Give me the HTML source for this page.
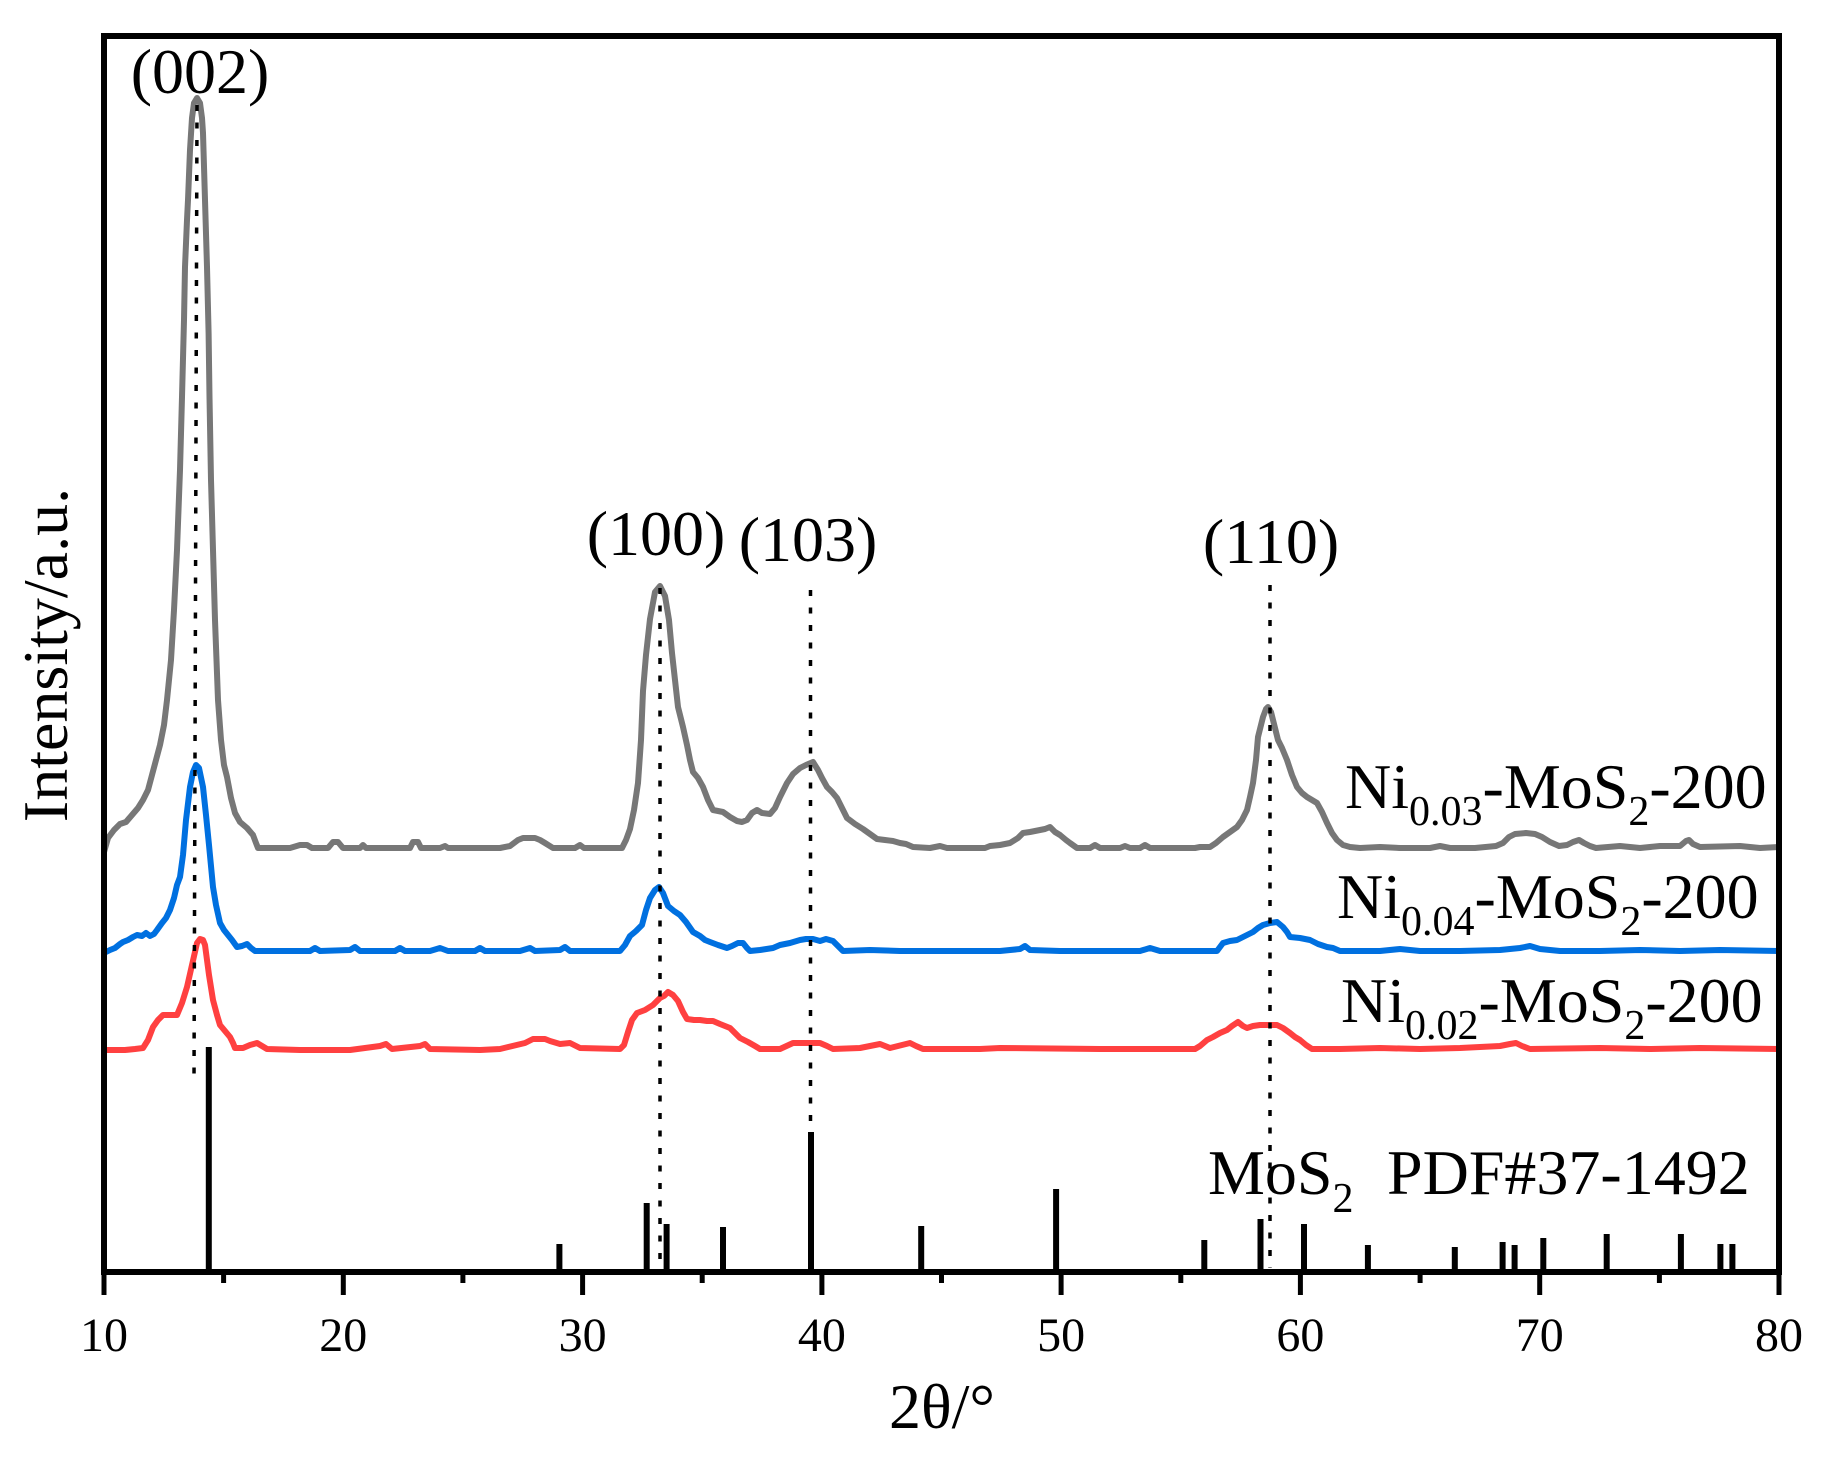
<!DOCTYPE html>
<html>
<head>
<meta charset="utf-8">
<style>
html,body{margin:0;padding:0;background:#fff;}
svg{display:block;}
text{font-family:"Liberation Serif","Times New Roman",serif;fill:#000;}
</style>
</head>
<body>
<svg width="1829" height="1458" viewBox="0 0 1829 1458" xmlns="http://www.w3.org/2000/svg">
<rect x="0" y="0" width="1829" height="1458" fill="#fff"/>

<!-- reference sticks -->
<g stroke="#000" stroke-width="6" fill="none">
<line x1="208.8" y1="1272" x2="208.8" y2="1047"/>
<line x1="559.4" y1="1272" x2="559.4" y2="1244"/>
<line x1="646.7" y1="1272" x2="646.7" y2="1203"/>
<line x1="666.6" y1="1272" x2="666.6" y2="1224"/>
<line x1="723.0" y1="1272" x2="723.0" y2="1227"/>
<line x1="811.0" y1="1272" x2="811.0" y2="1132"/>
<line x1="921.2" y1="1272" x2="921.2" y2="1226"/>
<line x1="1056.1" y1="1272" x2="1056.1" y2="1189"/>
<line x1="1204.3" y1="1272" x2="1204.3" y2="1240"/>
<line x1="1260.5" y1="1272" x2="1260.5" y2="1219"/>
<line x1="1304.0" y1="1272" x2="1304.0" y2="1224"/>
<line x1="1367.9" y1="1272" x2="1367.9" y2="1245"/>
<line x1="1454.8" y1="1272" x2="1454.8" y2="1247"/>
<line x1="1502.6" y1="1272" x2="1502.6" y2="1242"/>
<line x1="1514.6" y1="1272" x2="1514.6" y2="1245"/>
<line x1="1543.3" y1="1272" x2="1543.3" y2="1238"/>
<line x1="1606.7" y1="1272" x2="1606.7" y2="1234"/>
<line x1="1680.9" y1="1272" x2="1680.9" y2="1234"/>
<line x1="1720.4" y1="1272" x2="1720.4" y2="1244"/>
<line x1="1732.4" y1="1272" x2="1732.4" y2="1244"/>
</g>

<!-- curves -->
<g fill="none" stroke-width="6" stroke-linejoin="round" stroke-linecap="round">
<polyline stroke="#ff4040" points="104,1050 125,1050 135,1049 143,1048 148,1040 153,1027 158,1020 163,1015 170,1015 177,1015 182,1003 187,987 192,965 197,943 200,939 203,940 205,945 209,975 213,1000 217,1015 220,1025 225,1031 230,1037 233,1043 235,1048 243,1048 250,1045 257,1043 262,1046 267,1049 300,1050 350,1050 380,1046 386,1044 392,1049 420,1046 425,1044 430,1049 480,1050 500,1049 525,1043 533,1039 545,1039 550,1041 560,1044 570,1043 580,1048 620,1049 624,1045 628,1032 632,1020 637,1013 645,1010 653,1005 660,998 664,996 668,992 673,995 678,1001 683,1012 687,1019 694,1020 700,1020 707,1021 713,1021 720,1024 730,1028 735,1033 740,1038 748,1042 755,1046 760,1049 780,1049 793,1043 810,1043 820,1043 827,1046 833,1049 860,1048 880,1044 890,1048 910,1043 916,1046 923,1049 980,1049 1000,1048 1100,1049 1150,1049 1195,1049 1200,1046 1207,1040 1213,1037 1220,1033 1227,1030 1232,1026 1238,1022 1243,1026 1247,1028 1253,1026 1260,1025 1270,1025 1277,1025 1283,1028 1290,1033 1295,1037 1300,1040 1306,1045 1312,1049 1340,1049 1380,1048 1420,1049 1460,1048 1500,1046 1510,1044 1516,1043 1522,1046 1530,1049 1600,1048 1650,1049 1700,1048 1779,1049"/>
<polyline stroke="#0070e0" points="104,953 110,950 115,948 120,944 123,942 128,940 133,937 137,935 142,936 146,933 150,936 154,934 157,930 162,923 166,918 170,910 174,898 177,885 180,877 183,855 186,820 190,787 193,772 196,765 199,768 203,787 206,815 209,845 213,887 216,905 220,923 224,930 228,935 232,940 237,947 242,946 247,944 251,948 255,951 270,951 310,951 315,948 320,951 350,950 355,947 360,951 395,951 400,948 405,951 430,951 440,948 448,951 475,951 480,948 485,951 520,951 530,948 535,951 560,950 565,947 570,951 580,951 620,951 625,945 630,936 636,931 642,925 646,910 650,898 655,890 659,887 663,893 668,906 674,911 680,915 686,922 693,932 700,936 705,940 710,942 718,945 727,948 732,946 738,943 743,943 747,948 750,951 760,950 773,948 780,945 790,943 800,940 806,939 813,939 820,941 826,939 833,941 838,946 843,951 870,950 900,951 940,951 1000,951 1020,949 1025,946 1030,950 1060,951 1100,951 1140,951 1150,948 1160,951 1217,951 1223,943 1230,941 1237,940 1245,936 1253,932 1258,928 1263,925 1270,923 1277,922 1283,927 1287,932 1290,937 1300,938 1310,940 1318,944 1327,947 1333,948 1340,951 1380,951 1400,949 1420,951 1460,951 1500,950 1520,948 1530,946 1540,949 1560,951 1600,951 1640,950 1680,951 1720,950 1779,951"/>
<polyline stroke="#777777" points="104,852 108,838 114,830 120,824 126,822 132,815 138,808 143,800 148,790 152,775 156,760 160,745 164,725 167,700 171,660 174,610 177,550 180,470 182,397 184,320 185,267 187,220 188,200 190,150 192,118 194,103 197,98 200,103 202,118 203,133 205,200 207,267 208.6,333 209.5,397 211,480 213,550 215,620 218,700 221,740 224,765 227,777 231,798 235,813 240,822 247,828 253,835 256,843 258,848 265,848 290,848 300,845 307,845 312,848 328,848 333,842 338,842 343,848 360,848 363,845 366,848 410,848 413,842 418,842 421,848 440,848 445,846 448,848 500,848 510,846 518,840 523,838 535,838 540,840 545,843 553,848 575,848 580,845 584,848 622,848 626,840 630,829 634,810 638,783 641,740 643,691 646,655 650,619 655,592 660,586 665,596 669,620 672,653 675,680 678,707 683,727 687,745 690,760 693,772 698,778 703,787 708,800 713,810 718,811 723,812 730,817 737,821 742,822 747,820 752,813 757,810 762,813 770,814 775,808 780,797 787,783 793,774 800,768 806,765 813,762 818,770 822,778 827,787 832,792 837,798 842,808 847,818 855,824 863,829 870,834 877,839 885,840 893,841 900,843 906,844 913,847 930,848 940,846 947,848 985,848 990,846 1000,845 1010,843 1018,838 1023,833 1030,832 1040,830 1045,829 1050,827 1055,832 1060,835 1066,840 1070,843 1077,848 1090,848 1095,845 1100,848 1120,848 1125,846 1130,848 1140,848 1145,845 1150,848 1175,848 1195,848 1200,847 1210,847 1216,843 1223,837 1230,832 1237,827 1242,820 1247,810 1250,797 1253,783 1256,760 1258,737 1261,725 1263,717 1266,709 1268,707 1271,712 1273,720 1276,732 1278,740 1282,748 1287,760 1292,775 1297,787 1302,793 1307,797 1312,800 1317,803 1322,812 1327,823 1332,833 1337,840 1343,845 1350,847 1360,848 1380,847 1400,848 1430,848 1440,846 1450,848 1475,848 1496,846 1503,843 1509,837 1515,834 1526,833 1535,834 1542,837 1550,842 1559,846 1567,845 1573,842 1579,840 1584,843 1590,846 1596,848 1620,846 1640,848 1660,846 1680,846 1686,841 1689,840 1693,844 1700,847 1740,846 1760,848 1779,847"/>
</g>

<!-- dotted guide lines -->
<g stroke="#000" stroke-width="3.5" stroke-dasharray="6 11.5" fill="none">
<line x1="197" y1="105" x2="194" y2="1082"/>
<line x1="660" y1="588" x2="660" y2="1268"/>
<line x1="810.5" y1="590" x2="810.5" y2="1132"/>
<line x1="1270" y1="585" x2="1270" y2="1268"/>
</g>

<!-- frame -->
<rect x="104" y="36" width="1675" height="1236" fill="none" stroke="#000" stroke-width="6"/>

<!-- ticks -->
<g stroke="#000" stroke-width="5">
<line x1="104" y1="1272" x2="104" y2="1295"/>
<line x1="343.3" y1="1272" x2="343.3" y2="1295"/>
<line x1="582.6" y1="1272" x2="582.6" y2="1295"/>
<line x1="821.9" y1="1272" x2="821.9" y2="1295"/>
<line x1="1061.1" y1="1272" x2="1061.1" y2="1295"/>
<line x1="1300.4" y1="1272" x2="1300.4" y2="1295"/>
<line x1="1539.7" y1="1272" x2="1539.7" y2="1295"/>
<line x1="1779" y1="1272" x2="1779" y2="1295"/>
<line x1="223.6" y1="1272" x2="223.6" y2="1283"/>
<line x1="462.9" y1="1272" x2="462.9" y2="1283"/>
<line x1="702.2" y1="1272" x2="702.2" y2="1283"/>
<line x1="941.5" y1="1272" x2="941.5" y2="1283"/>
<line x1="1180.8" y1="1272" x2="1180.8" y2="1283"/>
<line x1="1420.1" y1="1272" x2="1420.1" y2="1283"/>
<line x1="1659.4" y1="1272" x2="1659.4" y2="1283"/>
</g>

<!-- tick labels -->
<g font-size="48" text-anchor="middle">
<text x="104" y="1351">10</text>
<text x="343.3" y="1351">20</text>
<text x="582.6" y="1351">30</text>
<text x="821.9" y="1351">40</text>
<text x="1061.1" y="1351">50</text>
<text x="1300.4" y="1351">60</text>
<text x="1539.7" y="1351">70</text>
<text x="1779" y="1351">80</text>
</g>

<!-- axis titles -->
<text x="942" y="1428" font-size="64" text-anchor="middle">2θ/°</text>
<text transform="translate(67,655) rotate(-90)" font-size="64" text-anchor="middle">Intensity/a.u.</text>

<!-- peak labels -->
<g font-size="64" text-anchor="middle">
<text x="200" y="93">(002)</text>
<text x="656" y="555">(100)</text>
<text x="808" y="561">(103)</text>
<text x="1271" y="563">(110)</text>
</g>

<!-- series labels -->
<g font-size="64">
<text x="1345" y="808">Ni<tspan font-size="42" dy="17">0.03</tspan><tspan dy="-17">-MoS</tspan><tspan font-size="42" dy="17">2</tspan><tspan dy="-17">-200</tspan></text>
<text x="1337" y="918">Ni<tspan font-size="42" dy="17">0.04</tspan><tspan dy="-17">-MoS</tspan><tspan font-size="42" dy="17">2</tspan><tspan dy="-17">-200</tspan></text>
<text x="1341" y="1022">Ni<tspan font-size="42" dy="17">0.02</tspan><tspan dy="-17">-MoS</tspan><tspan font-size="42" dy="17">2</tspan><tspan dy="-17">-200</tspan></text>
<text x="1208" y="1194">MoS<tspan font-size="42" dy="18">2</tspan></text>
<text x="1387" y="1194">PDF#37-1492</text>
</g>
</svg>
</body>
</html>
